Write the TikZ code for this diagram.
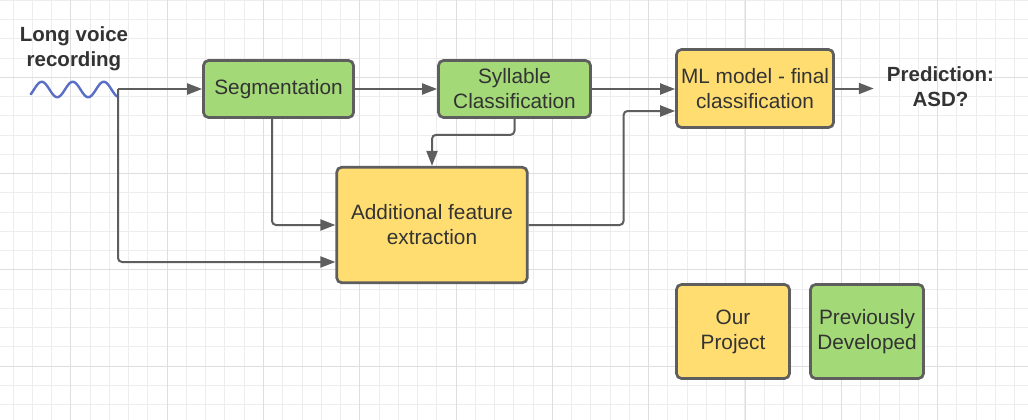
\documentclass[tikz,border=0pt]{standalone}
\usepackage{fontspec}
\setmainfont{Liberation Sans}
\usetikzlibrary{arrows.meta}
\definecolor{ourfill}{HTML}{FFDD71}
\definecolor{prevfill}{HTML}{A3D977}
\definecolor{edgegray}{HTML}{5E5E5E}
\definecolor{txtgray}{HTML}{333333}
\definecolor{wavecol}{HTML}{5A6EC6}
\definecolor{gridminor}{HTML}{EDEDED}
\definecolor{gridmajor}{HTML}{DEDEDE}
\begin{document}
\begin{tikzpicture}[x=1pt, y=-1pt,
    box/.style={draw=edgegray, line width=2.7pt, rounded corners=5pt, align=center,
        text=txtgray, font=\fontsize{20.8}{25}\selectfont, inner sep=0pt},
    label/.style={align=center, text=txtgray, font=\fontsize{20.5}{25}\selectfont\bfseries, inner sep=0pt},
    conn/.style={draw=edgegray, line width=2pt, rounded corners=4pt, -{Triangle[length=15pt,width=11pt]}}]
    \useasboundingbox (0,0) rectangle (1028,420);
    \fill[white] (0,0) rectangle (1028,420);

    % background grid
    \foreach \i in {0,...,53} {
        \draw[gridminor, line width=1pt] (13.1+\i*19.26,0) -- (13.1+\i*19.26,420);
    }
    \foreach \i in {0,...,21} {
        \draw[gridminor, line width=1pt] (0,0.3+\i*19.26) -- (1028,0.3+\i*19.26);
    }
    \foreach \i in {0,...,10} {
        \draw[gridmajor, line width=1pt] (-25.4+\i*96.3,0) -- (-25.4+\i*96.3,420);
    }
    \foreach \i in {0,...,4} {
        \draw[gridmajor, line width=1pt] (0,-19+\i*96.3) -- (1028,-19+\i*96.3);
    }

    % input
    \node[label] (recording) at (74,49) {Long voice\\recording};
    \draw[wavecol, line width=2.4pt, line cap=round] plot[domain=30.7:117.5, samples=90] (\x, {89.5-7.7*sin(11.6129*(\x-34))});
    \coordinate (src) at (118,89);

    % blocks
    \node[box, fill=prevfill, minimum width=150pt, minimum height=57pt] (seg) at (278.5,89) {Segmentation};
    \node[box, fill=prevfill, minimum width=152pt, minimum height=57pt] (syl) at (514.5,89) {Syllable\\Classification};
    \node[box, fill=ourfill, minimum width=190.5pt, minimum height=115.5pt] (feat) at (432,225) {Additional feature\\extraction};
    \node[box, fill=ourfill, minimum width=157pt, minimum height=78pt] (ml) at (755,88.5) {ML model - final\\classification};
    \node[label, inner xsep=13pt] (pred) at (940.5,87) {Prediction:\\ASD?};

    % legend
    \node[box, fill=ourfill, minimum width=113pt, minimum height=94pt] (ours) at (733,331.5) {Our\\Project};
    \node[box, fill=prevfill, minimum width=113pt, minimum height=94pt] (prev) at (867,331.5) {Previously\\Developed};

    % connectors
    \draw[conn] (src) -- (seg.west);
    \draw[conn] (src) |- ([yshift=-37pt]feat.west);
    \draw[conn] ([xshift=-6.5pt]seg.south) |- (feat.west);
    \draw[conn] (seg.east) -- (syl.west);
    \draw[conn] (syl.east) -- (syl.east -| ml.west);
    \draw[conn] (syl.south) -- ++(0,16) -| (feat.north);
    \draw[conn] (feat.east) -- ++(95,0) |- ([yshift=-22.5pt]ml.west);
    \draw[conn] (ml.east) -- (ml.east -| pred.west);
\end{tikzpicture}
\end{document}
